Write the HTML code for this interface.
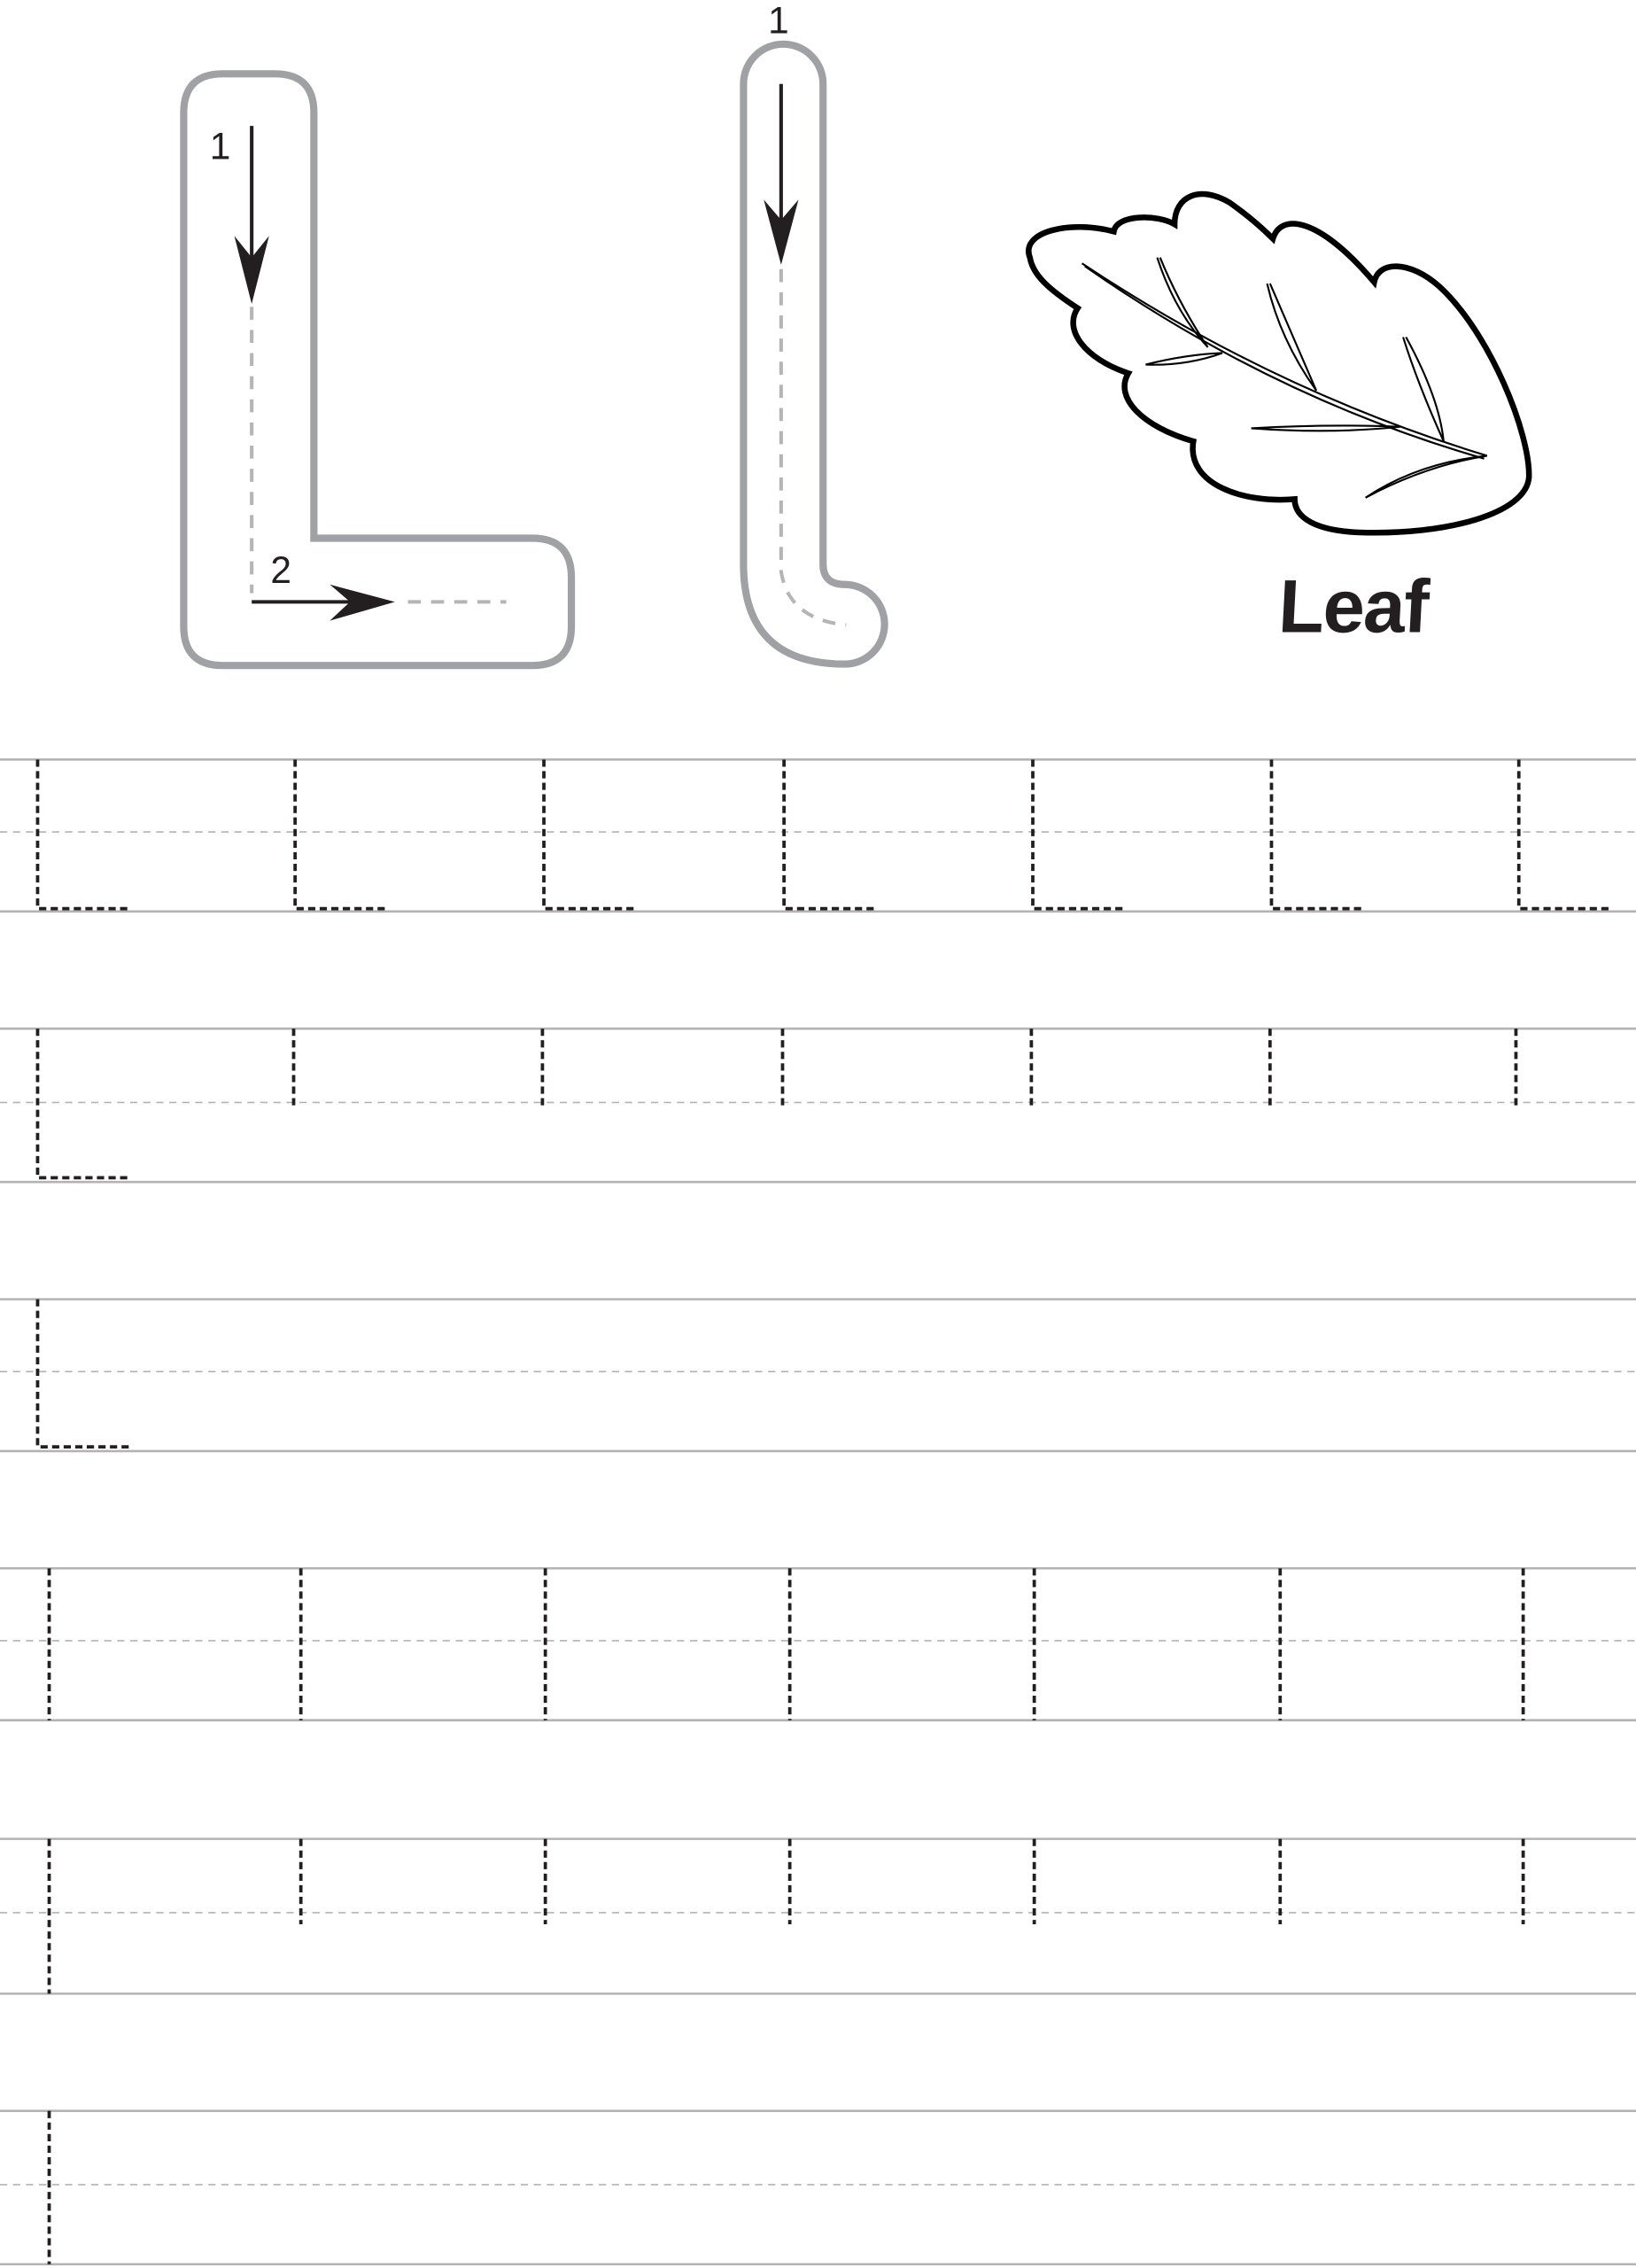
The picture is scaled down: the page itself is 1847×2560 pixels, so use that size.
<!DOCTYPE html>
<html><head><meta charset="utf-8"><style>
html,body{margin:0;padding:0;background:#fff}
svg{display:block}
</style></head><body>
<svg width="1847" height="2560" viewBox="0 0 1131 1567.6" xmlns="http://www.w3.org/2000/svg">
<rect width="1131" height="1568" fill="#fff"/>
<!-- Capital L -->
<path d="M127 78 Q127 51 154 51 L190 51 Q217 51 217 78 L217 372 L368 372 Q395 372 395 399 L395 433 Q395 460 368 460 L154 460 Q127 460 127 433 Z" fill="none" stroke="#a0a1a4" stroke-width="5"/>
<line x1="174" y1="87" x2="174" y2="190" stroke="#231f20" stroke-width="2.5"/>
<path d="M174 210 L162 163 L174 178 L186 163 Z" fill="#231f20"/>
<line x1="174" y1="212" x2="174" y2="410" stroke="#b5b5b5" stroke-width="2.5" stroke-dasharray="9,7"/>
<line x1="174" y1="416" x2="250" y2="416" stroke="#231f20" stroke-width="2.5"/>
<path d="M273 416 L228 404 L242 416 L228 429 Z" fill="#231f20"/>
<line x1="282" y1="416" x2="350" y2="416" stroke="#b5b5b5" stroke-width="2.5" stroke-dasharray="9,7"/>
<text x="145" y="110" font-family="Liberation Sans, sans-serif" font-size="26" fill="#231f20">1</text>
<text x="187" y="403" font-family="Liberation Sans, sans-serif" font-size="26" fill="#231f20">2</text>
<!-- lowercase l -->
<path d="M514 58 A27.5 27.5 0 0 1 569 58 L569 390 Q569 404 584 404 A27.5 27.5 0 0 1 584 459 Q514 459 514 390 Z" fill="none" stroke="#a0a1a4" stroke-width="5"/>
<line x1="540" y1="58" x2="540" y2="165" stroke="#231f20" stroke-width="2.5"/>
<path d="M540 183 L528 138 L540 152 L552 138 Z" fill="#231f20"/>
<path d="M540 186 L540 395 Q545 428 585 432" fill="none" stroke="#b5b5b5" stroke-width="2.5" stroke-dasharray="9,7"/>
<text x="531" y="23" font-family="Liberation Sans, sans-serif" font-size="26" fill="#231f20">1</text>
<!-- Leaf -->
<path d="M712 178 C705 160 740 152 770 160 C772 148 800 148 812 155 C812 135 830 128 850 140 C860 147 870 155 880 165 C885 148 910 148 950 195 C953 180 975 180 995 198 C1030 230 1058 300 1057 330 C1055 355 1000 370 940 368 C910 367 895 358 895 345 C860 348 820 335 825 305 C790 295 770 275 780 258 C750 248 735 228 745 213 C725 200 714 190 712 178 Z" fill="#fff" stroke="#000" stroke-width="4"/>
<g fill="none" stroke="#000" stroke-width="1.3">
<path d="M748 182 Q880 270 1028 315"/>
<path d="M750 184 Q880 275 1026 317"/>
<path d="M800 178 Q812 215 835 240 Q815 210 802 178"/>
<path d="M876 196 Q885 235 910 270 Q895 235 878 196"/>
<path d="M970 233 Q980 265 998 305 Q995 275 972 233"/>
<path d="M792 252 Q820 245 845 244 Q820 253 792 252"/>
<path d="M865 296 Q920 300 968 295 Q920 293 865 296"/>
<path d="M944 344 Q980 320 1028 315 Q985 322 944 344"/>
</g>
<text x="884" y="437" font-family="Liberation Sans, sans-serif" font-size="52" font-weight="bold" fill="#231f20" letter-spacing="-1" transform="skewX(-3) translate(22,0)">Leaf</text>
<!-- ruled lines -->
<g stroke="#b3b3b3" stroke-width="1.6">
<line x1="0" y1="525" x2="1131" y2="525"/><line x1="0" y1="630" x2="1131" y2="630"/>
<line x1="0" y1="711" x2="1131" y2="711"/><line x1="0" y1="817" x2="1131" y2="817"/>
<line x1="0" y1="898" x2="1131" y2="898"/><line x1="0" y1="1003" x2="1131" y2="1003"/>
<line x1="0" y1="1084" x2="1131" y2="1084"/><line x1="0" y1="1189" x2="1131" y2="1189"/>
<line x1="0" y1="1271" x2="1131" y2="1271"/><line x1="0" y1="1378" x2="1131" y2="1378"/>
<line x1="0" y1="1459" x2="1131" y2="1459"/><line x1="0" y1="1565" x2="1131" y2="1565"/>
</g>
<g stroke="#b3b3b3" stroke-width="1" stroke-dasharray="5,4">
<line x1="0" y1="575" x2="1131" y2="575"/><line x1="0" y1="762" x2="1131" y2="762"/>
<line x1="0" y1="948" x2="1131" y2="948"/><line x1="0" y1="1134" x2="1131" y2="1134"/>
<line x1="0" y1="1322" x2="1131" y2="1322"/><line x1="0" y1="1510" x2="1131" y2="1510"/>
</g>
<!-- tracing letters -->
<g stroke="#231f20" stroke-width="2.3" stroke-dasharray="5,3" fill="none">
<path d="M26 525 V628 H91"/><path d="M204 525 V628 H269"/><path d="M376 525 V628 H441"/><path d="M542 525 V628 H607"/><path d="M714 525 V628 H779"/><path d="M879 525 V628 H944"/><path d="M1050 525 V628 H1115"/>
<path d="M26 711 V814 H91"/><path d="M203 711 V767"/><path d="M375 711 V767"/><path d="M541 711 V767"/><path d="M713 711 V767"/><path d="M878 711 V767"/><path d="M1048 711 V767"/>
<path d="M26 898 V1000 H91"/>
<path d="M34 1084 V1189"/><path d="M208 1084 V1189"/><path d="M377 1084 V1189"/><path d="M546 1084 V1189"/><path d="M715 1084 V1189"/><path d="M885 1084 V1189"/><path d="M1053 1084 V1189"/>
<path d="M34 1271 V1378"/><path d="M208 1271 V1330"/><path d="M377 1271 V1330"/><path d="M546 1271 V1330"/><path d="M715 1271 V1330"/><path d="M885 1271 V1330"/><path d="M1053 1271 V1330"/>
<path d="M34 1459 V1565"/>
</g>
</svg>
</body></html>
